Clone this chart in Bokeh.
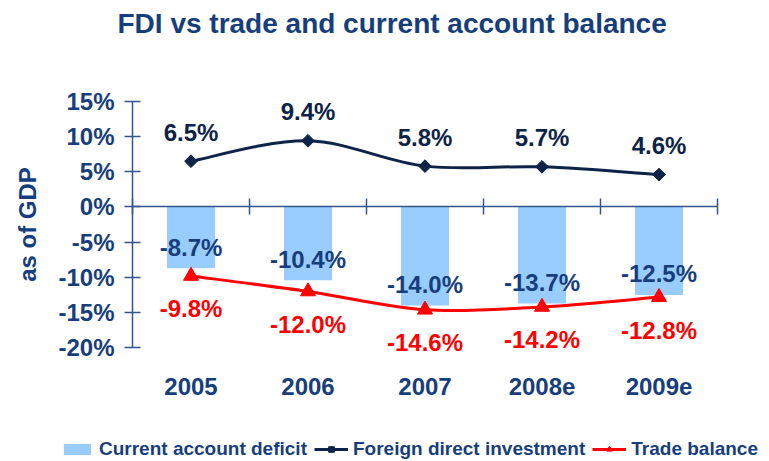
from bokeh.plotting import figure
from bokeh.models import (FixedTicker, LinearAxis, Range1d, Legend, LegendItem,
                          ColumnDataSource)
from bokeh.embed import file_html
from bokeh.resources import INLINE
from bokeh.core.properties import value
import math

# ---- data ----
years = ["2005", "2006", "2007", "2008e", "2009e"]
current_account = [-8.7, -10.4, -14.0, -13.7, -12.5]
fdi = [6.5, 9.4, 5.8, 5.7, 4.6]
trade = [-9.8, -12.0, -14.6, -14.2, -12.8]
y_ticks = [-20, -15, -10, -5, 0, 5, 10, 15]

xs = list(range(1, len(years) + 1))

NAVY = "#173E7C"
DARK = "#0D2347"
RED = "#FF0000"
BAR = "#99CCFF"
AXIS = "#34558B"
FONT = "Liberation Sans"

# ---- layout (pixels) ----
W, H = 769, 461
TOP = 42                      # frame top (below title)
AX_L, AX_R = 132, 717         # plotting area left/right
AX_T, AX_B = 100, 347         # y=15 and y=-20 positions
ppx = (AX_R - AX_L) / len(years)
ppy = (AX_B - AX_T) / (y_ticks[-1] - y_ticks[0])
x0 = xs[0] - 0.5 - AX_L / ppx
x1 = xs[-1] + 0.5 + (W - AX_R) / ppx
y1 = y_ticks[-1] + (AX_T - TOP) / ppy
y0 = y_ticks[0] - (H - AX_B) / ppy


def bezier_segments(x, y):
    n = len(x)
    seg = dict(x0=[], y0=[], x1=[], y1=[], cx0=[], cy0=[], cx1=[], cy1=[])
    for i in range(n - 1):
        pm = i - 1 if i > 0 else 0
        pp = i + 2 if i + 2 < n else n - 1
        seg["x0"].append(x[i]); seg["y0"].append(y[i])
        seg["x1"].append(x[i + 1]); seg["y1"].append(y[i + 1])
        seg["cx0"].append(x[i] + (x[i + 1] - x[pm]) / 6)
        seg["cy0"].append(y[i] + (y[i + 1] - y[pm]) / 6)
        seg["cx1"].append(x[i + 1] - (x[pp] - x[i]) / 6)
        seg["cy1"].append(y[i + 1] - (y[pp] - y[i]) / 6)
    return seg


p = figure(width=W, height=H,
           x_range=Range1d(x0, x1), y_range=Range1d(y0, y1),
           output_backend="svg", toolbar_location=None,
           min_border_left=0, min_border_right=0,
           min_border_top=TOP, min_border_bottom=0)
p.outline_line_color = None
p.xgrid.visible = False
p.ygrid.visible = False
p.background_fill_color = "white"
p.border_fill_color = "white"

# title
p.title.text = "FDI vs trade and current account balance"
p.title.text_font = FONT
p.title.text_font_size = "28px"
p.title.text_font_style = "bold"
p.title.text_color = NAVY
p.title.align = "left"
p.title.offset = 117

# y axis (fixed at left edge of categories)
yax = p.yaxis[0]
yax.fixed_location = xs[0] - 0.5
yax.bounds = (y_ticks[0], y_ticks[-1])
yax.ticker = FixedTicker(ticks=y_ticks)
yax.major_label_overrides = {t: f"{t}%" for t in y_ticks}
yax.axis_label = "as of GDP"
yax.axis_label_text_font = FONT
yax.axis_label_text_font_size = "24px"
yax.axis_label_text_font_style = "bold"
yax.axis_label_text_color = NAVY
yax.axis_label_standoff = 14
yax.major_label_text_font = FONT
yax.major_label_text_font_size = "24px"
yax.major_label_text_font_style = "bold"
yax.major_label_text_color = NAVY
yax.major_label_standoff = 10
yax.axis_line_color = AXIS
yax.axis_line_width = 1.5
yax.major_tick_line_color = AXIS
yax.major_tick_line_width = 1.5
yax.major_tick_in = 8
yax.major_tick_out = 8
yax.minor_tick_line_color = None

# x axis at zero with boundary ticks (no labels)
xax = p.xaxis[0]
xax.fixed_location = 0
xax.bounds = (xs[0] - 0.5, xs[-1] + 0.5)
xax.ticker = FixedTicker(ticks=[x - 0.5 for x in xs] + [xs[-1] + 0.5])
xax.major_label_text_color = None
xax.major_label_standoff = 0
xax.axis_line_color = AXIS
xax.axis_line_width = 1.5
xax.major_tick_line_color = AXIS
xax.major_tick_line_width = 1.5
xax.major_tick_in = 8
xax.major_tick_out = 8
xax.minor_tick_line_color = None

# category labels axis
lab_ax = LinearAxis(ticker=FixedTicker(ticks=xs), fixed_location=y_ticks[0],
                    major_label_overrides={x: y for x, y in zip(xs, years)},
                    axis_line_color=None, major_tick_line_color=None,
                    minor_tick_line_color=None,
                    major_tick_in=0, major_tick_out=0,
                    major_label_standoff=30,
                    major_label_text_font=FONT,
                    major_label_text_font_size="24px",
                    major_label_text_font_style="bold",
                    major_label_text_color=NAVY)
p.add_layout(lab_ax, "below")

# bars
bars = p.vbar(x=xs, top=current_account, bottom=0, width=0.41,
              fill_color=BAR, line_color=None)

# FDI smooth line
fseg = bezier_segments(xs, fdi)
fdi_line = p.bezier(source=ColumnDataSource(fseg), x0="x0", y0="y0", x1="x1", y1="y1",
                    cx0="cx0", cy0="cy0", cx1="cx1", cy1="cy1",
                    line_color=DARK, line_width=3)
fdi_pts = p.scatter(x=xs, y=fdi, marker="square", size=9, angle=math.pi / 4,
                    fill_color=DARK, line_color=DARK)

# Trade smooth line
tseg = bezier_segments(xs, trade)
tr_line = p.bezier(source=ColumnDataSource(tseg), x0="x0", y0="y0", x1="x1", y1="y1",
                   cx0="cx0", cy0="cy0", cx1="cx1", cy1="cy1",
                   line_color=RED, line_width=3)
tr_pts = p.scatter(x=xs, y=trade, marker="triangle", size=15,
                   fill_color=RED, line_color=RED)

# data labels
def pct(v):
    return f"{v:.1f}%"

common = dict(text_font=value(FONT), text_font_size="24px", text_font_style="bold",
              text_align="center", text_baseline="middle")
p.text(x=xs, y=current_account, text=[pct(v) for v in current_account],
       y_offset=-21, text_color=NAVY, **common)
p.text(x=xs, y=fdi, text=[pct(v) for v in fdi],
       y_offset=-29, text_color=DARK, **common)
p.text(x=xs, y=trade, text=[pct(v) for v in trade],
       y_offset=33, text_color=RED, **common)

# legend
legend = Legend(items=[
    LegendItem(label="Current account deficit", renderers=[bars]),
    LegendItem(label="Foreign direct investment", renderers=[fdi_line, fdi_pts]),
    LegendItem(label="Trade balance", renderers=[tr_line, tr_pts]),
], orientation="horizontal", location=(60, 1),
    label_text_font=FONT, label_text_font_size="19px", label_text_font_style="bold",
    label_text_color=NAVY, glyph_width=34, glyph_height=14, label_standoff=5,
    spacing=7, padding=0, margin=0, border_line_color=None,
    background_fill_alpha=0)
p.add_layout(legend, "center")

open("out.html", "w").write(file_html(p, INLINE))
